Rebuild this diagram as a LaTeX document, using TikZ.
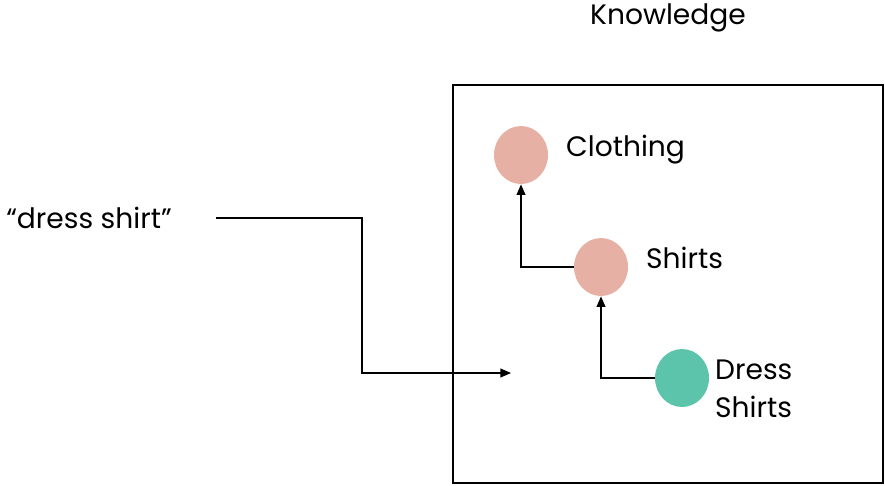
\documentclass[tikz,border=0pt]{standalone}
\usepackage{fontspec}
\setmainfont{Poppins}
\usepackage{tikz}
\usetikzlibrary{arrows.meta, shapes.geometric}
\definecolor{concept}{HTML}{E6B1A4}
\definecolor{match}{HTML}{5DC4AC}

\begin{document}
\begin{tikzpicture}[
  x=0.02cm, y=-0.02cm,
  cnode/.style={
    ellipse, fill=concept, draw=none,
    minimum width=1.08cm, minimum height=1.16cm, inner sep=0pt
  },
  txt/.style={font=\fontsize{16}{21.5}\selectfont},
  lbl/.style={txt, anchor=west, align=left},
  link/.style={line width=0.8pt, -{Triangle[length=6pt,width=5pt]}}
]
  \useasboundingbox (0,0) rectangle (885,485);
  \node[txt] (title) at (668,18){Knowledge};
  \draw[line width=0.8pt] (453,85) rectangle (883,483);
  \node[cnode] (c1) at (521,155){};
  \node[cnode] (c2) at (601,267){};
  \node[cnode, fill=match] (c3) at (682,378){};
  \node[lbl] (l1) at (560,150){Clothing};
  \node[lbl] (l2) at (640,258){Shirts};
  \node[lbl] (l3) at (709,389){Dress\\Shirts};
  \draw[link] (c2.west) -| (c1.south);
  \draw[link] (c3.west) -| (c2.south);
  \node[txt] (query) at (89,218){``dress shirt''};
  \coordinate (qstart) at (216,218);
  \coordinate (qend) at (511,373);
  \draw[link] (qstart) -- (362,218) |- (qend);
\end{tikzpicture}
\end{document}
